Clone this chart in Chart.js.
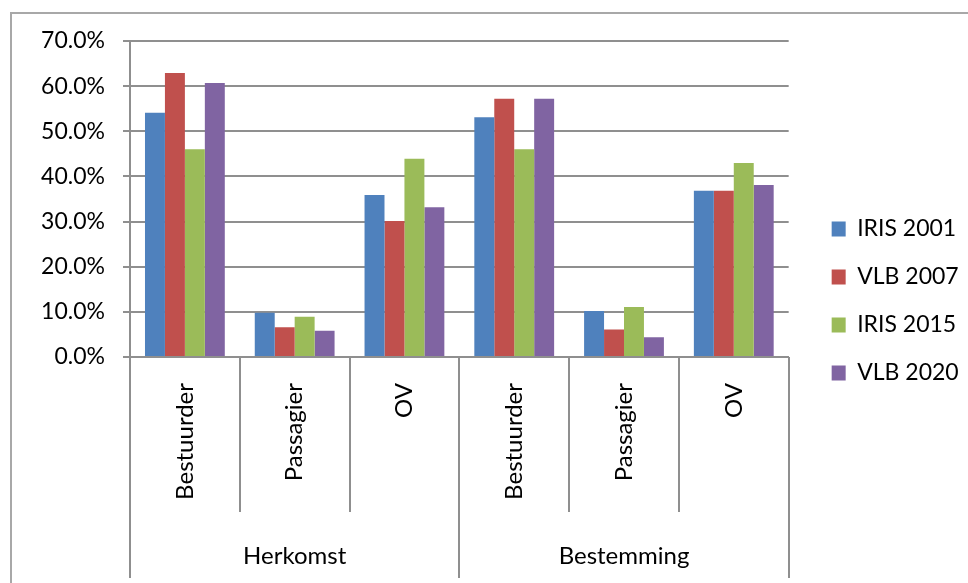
<!DOCTYPE html>
<html>
<head>
<meta charset="utf-8">
<title>Herkomst / Bestemming</title>
<script src="https://cdn.jsdelivr.net/npm/chart.js@4.4.1/dist/chart.umd.min.js"></script>
<style>
    html, body { margin: 0; padding: 0; background: #fff; }
    #wrap { width: 968px; height: 583px; position: relative; }
</style>
</head>
<body>
<div id="wrap"><canvas id="modalChart"></canvas></div>
<script>
// =========================
// DATA
// =========================
const categories = ['Bestuurder', 'Passagier', 'OV', 'Bestuurder', 'Passagier', 'OV'];
const groups = ['Herkomst', 'Bestemming'];
const groupSize = 3;

const iris2001 = [54.1, 9.8, 35.9, 53.1, 10.2, 36.8];
const vlb2007  = [62.9, 6.6, 30.1, 57.2, 6.1, 36.8];
const iris2015 = [46.0, 8.9, 43.9, 46.0, 11.1, 43.0];
const vlb2020  = [60.7, 5.8, 33.2, 57.2, 4.4, 38.1];

const seriesNames = ['IRIS 2001', 'VLB 2007', 'IRIS 2015', 'VLB 2020'];
const seriesColors = ['#4F81BD', '#C0504D', '#9BBB59', '#8064A2'];

const yTicksMax = 70;
const yTicksStep = 10;

// =========================
// STYLE
// =========================
const FONT = 'Lato';
const AXIS_GREY = '#8f8f8f';

Chart.defaults.font.family = FONT;
Chart.defaults.color = '#000';

// =========================
// PLUGIN: frame + two-level category axis
// =========================
const frameAndGroups = {
    id: 'frameAndGroups',
    beforeDraw(chart) {
        const ctx = chart.ctx;
        ctx.save();
        ctx.fillStyle = '#fff';
        ctx.fillRect(0, 0, chart.width, chart.height);
        ctx.strokeStyle = '#a8a8a8';
        ctx.lineWidth = 2;
        ctx.strokeRect(11, 13, chart.width + 50, chart.height + 50);
        ctx.restore();
    },
    afterDraw(chart) {
        const ctx = chart.ctx;
        const x = chart.scales.x;
        const step = x.width / categories.length;
        const top = x.top;

        ctx.save();
        ctx.strokeStyle = AXIS_GREY;
        ctx.lineWidth = 2;

        for (let i = 0; i <= categories.length; i++) {
            const edge = Math.round(x.getPixelForValue(i) - step / 2);
            const isGroupEdge = i % groupSize === 0;
            ctx.beginPath();
            ctx.moveTo(edge, top);
            ctx.lineTo(edge, top + (isGroupEdge ? 221 : 155));
            ctx.stroke();
        }

        // group names under the sub-categories
        ctx.fillStyle = '#000';
        ctx.font = '24px ' + FONT;
        ctx.textAlign = 'center';
        ctx.textBaseline = 'middle';
        groups.forEach((g, gi) => {
            const first = x.getPixelForValue(gi * groupSize);
            const last = x.getPixelForValue(gi * groupSize + groupSize - 1);
            ctx.fillText(g, (first + last) / 2, top + 199);
        });
        ctx.restore();
    }
};

// =========================
// CHART
// =========================
const seriesData = [iris2001, vlb2007, iris2015, vlb2020];

new Chart(document.getElementById('modalChart'), {
    type: 'bar',
    data: {
        labels: categories,
        datasets: seriesData.map((d, i) => ({
            label: seriesNames[i],
            data: d,
            backgroundColor: seriesColors[i],
            borderWidth: 0,
            categoryPercentage: 0.727,
            barPercentage: 1.0
        }))
    },
    options: {
        responsive: true,
        maintainAspectRatio: false,
        animation: false,
        devicePixelRatio: 1,
        layout: { padding: { top: 41, bottom: 22, left: 0, right: 0 } },
        plugins: {
            legend: {
                position: 'right',
                labels: {
                    boxWidth: 14,
                    boxHeight: 15,
                    padding: 25,
                    color: '#000',
                    font: { size: 23, family: FONT }
                }
            },
            tooltip: { enabled: false }
        },
        scales: {
            x: {
                grid: { display: false, drawTicks: false },
                border: { display: true, color: AXIS_GREY, width: 2 },
                ticks: {
                    minRotation: 90,
                    maxRotation: 90,
                    autoSkip: false,
                    padding: 26,
                    color: '#000',
                    font: { size: 24, family: FONT }
                },
                afterFit(scale) { scale.height = 204; }
            },
            y: {
                min: 0,
                max: yTicksMax,
                grid: {
                    color: AXIS_GREY,
                    lineWidth: 2,
                    tickLength: 7
                },
                border: { display: true, color: AXIS_GREY, width: 2 },
                ticks: {
                    stepSize: yTicksStep,
                    padding: 18,
                    color: '#000',
                    font: { size: 23, family: FONT },
                    callback: v => v.toFixed(1) + '%'
                },
                afterFit(scale) { scale.width = 130; }
            },
            // empty strip that keeps the legend clear of the plot
            gap: {
                type: 'linear',
                position: 'right',
                display: true,
                grid: { display: false, drawTicks: false },
                border: { display: false },
                ticks: { display: false },
                afterFit(scale) { scale.width = 18; }
            }
        }
    },
    plugins: [frameAndGroups]
});
</script>
</body>
</html>
